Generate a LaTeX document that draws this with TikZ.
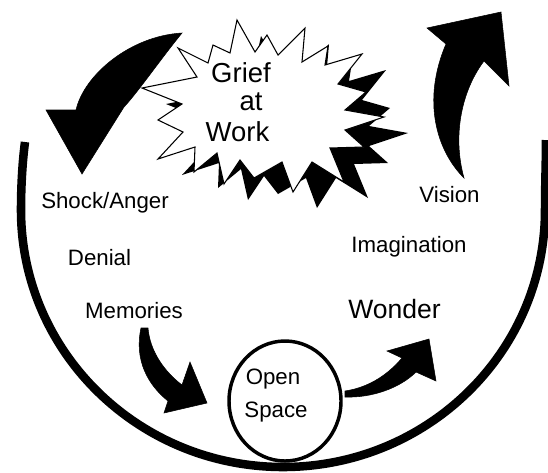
\documentclass[tikz,border=0pt]{standalone}
\usepackage{fontspec}
\setmainfont{Liberation Sans}
\usetikzlibrary{shapes.geometric}
\newcommand\starburst[1]{\path[#1] (178,48) -- (208,63) -- (213,45) -- (230,53) -- (237,20) -- (255,52) -- (267,35) -- (278,55) -- (305,28) -- (302,62) -- (328,46) -- (325,65) -- (362,54) -- (338,84) -- (366,92) -- (345,110) -- (384,117) -- (345,130) -- (364,147) -- (330,148) -- (344,182) -- (312,162) -- (293,192) -- (282,162) -- (254,178) -- (240,160) -- (224,184) -- (217,153) -- (194,172) -- (195,147) -- (158,159) -- (183,132) -- (158,120) -- (182,104) -- (142,88) -- (197,77) -- cycle;}
\begin{document}
\begin{tikzpicture}[x=0.75pt,y=-0.75pt,
  lbl/.style={font=\fontsize{16.7}{20}\selectfont,inner sep=0pt,anchor=base},
  bigl/.style={font=\fontsize{19.9}{24}\selectfont,inner sep=0pt,anchor=base},
  grief/.style={font=\fontsize{20.6}{24}\selectfont,inner sep=0pt,anchor=base},
  blockarrow/.style={fill=black,draw=black,line width=0.4pt,line join=miter}]
\useasboundingbox (0,0) rectangle (548,472);
% big cycle curve
\coordinate (cl) at (25,142);
\coordinate (cr) at (546,140);
\draw[line width=6.4pt] (cl) .. controls (22,165) and (21,190) .. (21,210)
  arc[start angle=180, end angle=0, x radius=262, y radius=257]
  .. controls (545,185) and (546,160) .. (cr);
% starburst with shadow
\starburst{fill=black,shift={(24,16)}}
\starburst{fill=white,draw=black,line width=0.8pt,line join=miter}
\node[grief] (grief) at (241,82) {Grief};
\node[grief] (at) at (251,110) {at};
\node[grief] (work) at (237.5,141) {Work};
% arrows
\path[blockarrow] (182,33) .. controls (130,36) and (84,75) .. (76,110) -- (46,110) -- (82,174) -- (124,107) .. controls (138,92) and (160,60) .. (182,33) -- cycle;
\path[blockarrow] (464,178) .. controls (436,150) and (422,100) .. (446,44) -- (427,28) -- (501,12) -- (509,86) -- (484,61) .. controls (462,90) and (452,135) .. (464,178) -- cycle;
\path[blockarrow] (141,328) .. controls (134,360) and (148,385) .. (168,401) -- (164,413) -- (207,403) -- (190,362) -- (182,385) .. controls (165,372) and (150,352) .. (148,328) -- cycle;
\path[blockarrow] (345,397) .. controls (372,398) and (400,388) .. (416,372) -- (436,381) -- (429,339) -- (387,351) -- (402,358) .. controls (385,378) and (365,388) .. (345,391) -- cycle;
% open space
\node[ellipse,draw,line width=2.6pt,minimum width=84pt,minimum height=90pt,inner sep=0pt] (os) at (285,401) {};
\node[lbl] (open) at (273,384) {Open};
\node[lbl] (space) at (276,417) {Space};
% labels
\node[lbl] (shock) at (105,208) {Shock/Anger};
\node[lbl] (denial) at (99.5,265) {Denial};
\node[lbl] (memories) at (134,318) {Memories};
\node[lbl] (vision) at (449.5,202) {Vision};
\node[lbl] (imag) at (409,252) {Imagination};
\node[bigl] (wonder) at (394.5,318) {Wonder};
\end{tikzpicture}
\end{document}
